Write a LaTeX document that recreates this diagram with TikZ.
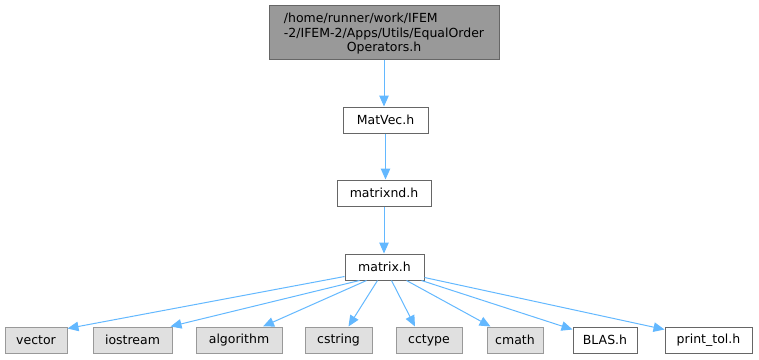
\documentclass[tikz,border=0pt]{standalone}
\usepackage{fontspec}
\setmainfont{DejaVu Sans}
\usetikzlibrary{arrows.meta}
\definecolor{edgeblue}{HTML}{63B8FF}
\definecolor{sysfill}{HTML}{E0E0E0}
\definecolor{sysdraw}{HTML}{999999}
\definecolor{topfill}{HTML}{999999}
\definecolor{boxdraw}{HTML}{666666}
\tikzset{
  box/.style={draw=boxdraw, fill=white, line width=1pt, minimum height=26pt, inner sep=0pt, font=\fontsize{12.5}{14}\selectfont, anchor=center},
  sysbox/.style={box, draw=sysdraw, fill=sysfill},
  topbox/.style={box, fill=topfill, minimum height=54pt, minimum width=230pt, align=center, font=\fontsize{12.5}{14.5}\selectfont},
  edge/.style={draw=edgeblue, line width=1pt, -{Triangle[length=11pt,width=9.5pt]}}
}
\begin{document}
\begin{tikzpicture}[x=1pt,y=-1pt]
\useasboundingbox (0,0) rectangle (759,359);
\node[topbox] (top) at (384,32) {};
\node[align=center, inner sep=0pt, font=\fontsize{12.5}{14.5}\selectfont] (toptext) at (384,34) {\rlap{/home/runner/work/IFEM}\phantom{-2/IFEM-2/Apps/Utils/EqualOrder}\\-2/IFEM-2/Apps/Utils/EqualOrder\\Operators.h};
\node[box, minimum width=85pt] (matvec) at (385.5,120) {MatVec.h};
\node[box, minimum width=94pt] (matrixnd) at (384,193) {matrixnd.h};
\node[box, minimum width=79pt] (m) at (384.5,267) {matrix.h};
\node[sysbox, minimum width=62pt] (vector) at (36,340) {vector};
\node[sysbox, minimum width=79pt] (iostream) at (132.5,340) {iostream};
\node[sysbox, minimum width=86pt] (algorithm) at (239,340) {algorithm};
\node[sysbox, minimum width=67pt] (cstring) at (338.5,340) {cstring};
\node[sysbox, minimum width=66pt] (cctype) at (429,340) {cctype};
\node[sysbox, minimum width=56pt] (cmath) at (515,340) {cmath};
\node[box, minimum width=64pt] (blas) at (605,340) {BLAS.h};
\node[box, minimum width=87pt] (printtol) at (708.5,340) {print\_tol.h};
\draw[edge] (top.south) -- (top.south |- matvec.north);
\draw[edge] (matvec.south) -- (matvec.south |- matrixnd.north);
\draw[edge] (matrixnd.south) -- (matrixnd.south |- m.north);
\draw[edge] ([yshift=4pt]m.south west) -- ([yshift=-2pt]vector.north east);
\draw[edge] ([xshift=15pt]m.south west) -- ([xshift=-2pt]iostream.north east);
\draw[edge] ([xshift=22pt]m.south west) -- ([xshift=24pt]algorithm.north);
\draw[edge] ([xshift=33pt]m.south west) -- ([xshift=10pt]cstring.north);
\draw[edge] ([xshift=47pt]m.south west) -- ([xshift=-14pt]cctype.north);
\draw[edge] ([xshift=62pt]m.south west) -- ([xshift=4pt]cmath.north west);
\draw[edge] ([xshift=-3pt]m.south east) -- ([yshift=-3pt]blas.north west);
\draw[edge] ([yshift=3pt]m.south east) -- ([yshift=-3pt]printtol.north west);
\end{tikzpicture}
\end{document}
